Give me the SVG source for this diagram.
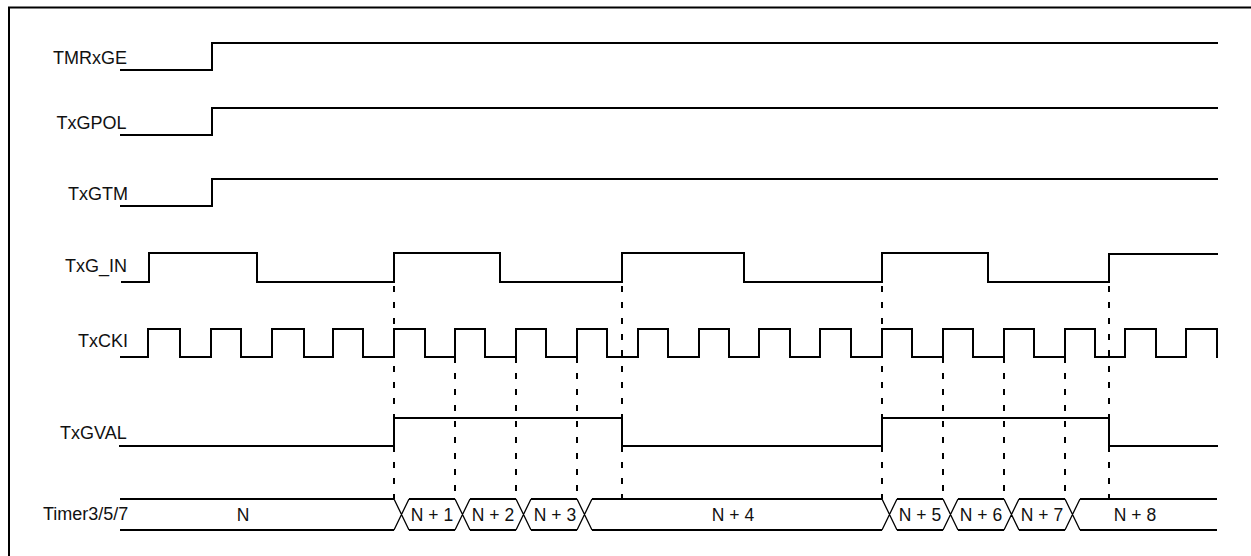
<svg xmlns="http://www.w3.org/2000/svg" width="1251" height="556" viewBox="0 0 1251 556">
<style>
.sig{fill:none;stroke:#000;stroke-width:2;stroke-linejoin:miter;stroke-linecap:square}
.bus{fill:none;stroke:#000;stroke-width:2}
.xing{fill:none;stroke:#000;stroke-width:1.3}
.dash{fill:none;stroke:#000;stroke-width:2;stroke-dasharray:6 10}
.lbl{font-family:"Liberation Sans",Arial,sans-serif;font-size:18px;fill:#111}
.val{font-family:"Liberation Sans",Arial,sans-serif;font-size:17.5px;fill:#111;text-anchor:middle}
</style>
<rect x="0" y="0" width="1251" height="556" fill="#fff"/>
<rect id="frame" x="9" y="7.5" width="1260" height="570" fill="none" stroke="#000" stroke-width="2"/>
<g id="connectors">
<path class="dash" d="M394,286V499M622,286V499M882,286V499M1109,286V499"/>
<path class="dash" d="M455,357V499M516,357V499M577,357V499M943,357V499M1004,357V499M1065,357V499"/>
</g>
<g id="TMRxGE">
<text class="lbl" x="53" y="63.5">TMRxGE</text>
<path class="sig" d="M121,70H212V43H1217"/>
</g>
<g id="TxGPOL">
<text class="lbl" x="56.5" y="128.5">TxGPOL</text>
<path class="sig" d="M121,135H212V108H1217"/>
</g>
<g id="TxGTM">
<text class="lbl" x="68" y="199.5">TxGTM</text>
<path class="sig" d="M121,206H212V179H1217"/>
</g>
<g id="TxG_IN">
<text class="lbl" x="65" y="271.5">TxG_IN</text>
<path class="sig" d="M122,282H149V253H257V282H394V253H500V282H622V253H744V282H882V253H988V282H1109V254H1217"/>
</g>
<g id="TxCKI">
<text class="lbl" x="78" y="346.5">TxCKI</text>
<path class="sig" d="M121,357H148V329H180V357H211V329H241V357H272V329H304V357H333V329H363V357H394V329H425V357H455V329H485V357H516V329H546V357H577V329H607V357H638V329H668V357H699V329H729V357H759V329H790V357H820V329H851V357H882V329H912V357H943V329H973V357H1004V329H1034V357H1065V329H1095V357H1125V329H1156V357H1186V329H1217V357"/>
</g>
<g id="TxGVAL">
<text class="lbl" x="60" y="438.5">TxGVAL</text>
<path class="sig" d="M120,446H394V418H622V446H882V418H1109V446H1217"/>
</g>
<g id="Timer357">
<text class="lbl" x="43" y="519.5">Timer3/5/7</text>
<path class="bus" d="M120,499H394M409,499H455M470,499H516M531,499H577M592,499H882M897,499H943M958,499H1004M1019,499H1065M1080,499H1217"/>
<path class="bus" d="M120,530H394M409,530H455M470,530H516M531,530H577M592,530H882M897,530H943M958,530H1004M1019,530H1065M1080,530H1217"/>
<path class="xing" d="M394,499L409,530M394,530L409,499M455,499L470,530M455,530L470,499M516,499L531,530M516,530L531,499M577,499L592,530M577,530L592,499M882,499L897,530M882,530L897,499M943,499L958,530M943,530L958,499M1004,499L1019,530M1004,530L1019,499M1065,499L1080,530M1065,530L1080,499"/>
<text class="val" x="243" y="520.5">N</text>
<text class="val" x="432" y="520.5">N + 1</text>
<text class="val" x="493" y="520.5">N + 2</text>
<text class="val" x="555" y="520.5">N + 3</text>
<text class="val" x="733" y="520.5">N + 4</text>
<text class="val" x="920" y="520.5">N + 5</text>
<text class="val" x="981" y="520.5">N + 6</text>
<text class="val" x="1042" y="520.5">N + 7</text>
<text class="val" x="1135" y="520.5">N + 8</text>
</g>
</svg>
